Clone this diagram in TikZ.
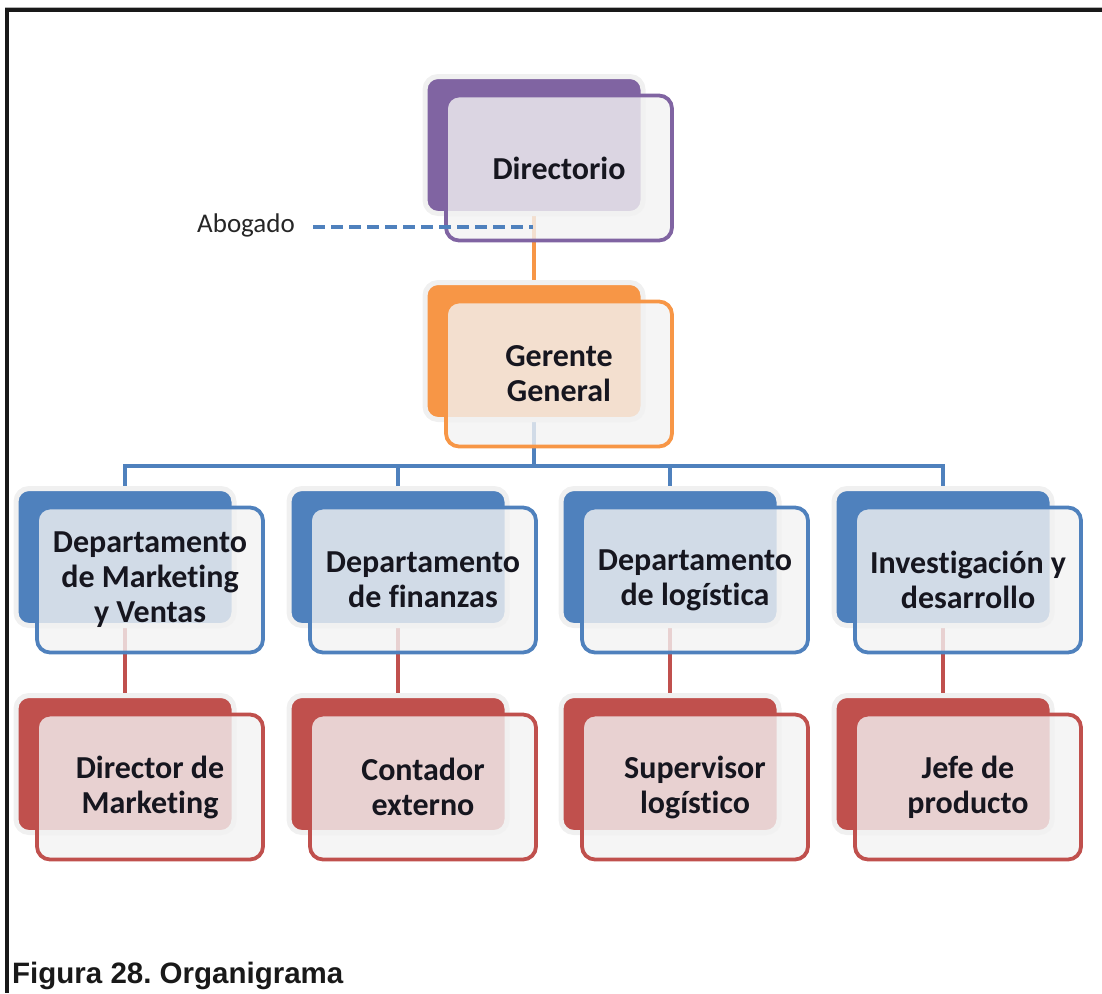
\documentclass[tikz,border=0pt]{standalone}
\usepackage{fontspec}
\setmainfont[Ligatures=NoCommon]{Carlito}
\newfontfamily\capfont{Liberation Sans}
\definecolor{cPurple}{HTML}{8064A2}
\definecolor{cOrange}{HTML}{F79646}
\definecolor{cBlue}{HTML}{4F81BD}
\definecolor{cRed}{HTML}{C0504D}
\definecolor{boxgray}{HTML}{F2F2F2}
\definecolor{halo}{HTML}{F0F0F0}
\definecolor{txt}{HTML}{16161F}
\pgfdeclarelayer{links}
\pgfsetlayers{links,main}

% one card: solid back panel plus translucent front panel carrying the text
% #1 name, #2 colour, #3 x, #4 y (front centre), #5 text
\newcommand\orgcard[5]{%
  \node[backbox=#2] (#1B) at ([shift={(-25,-23)}]#3,#4) {};
  \node[frontbox=#2] (#1) at (#3,#4) {#5};
}

\begin{document}
\begin{tikzpicture}[x=1pt,y=-1pt,
  backbox/.style={draw=halo, line width=5pt, fill=#1, rounded corners=13pt,
    minimum width=218pt, minimum height=137pt, inner sep=0pt},
  frontbox/.style={draw=#1, line width=3.8pt, fill=boxgray, fill opacity=0.8,
    text opacity=1, rounded corners=13pt, minimum width=226pt,
    minimum height=145pt, inner sep=0pt, align=center, text=txt,
    font=\bfseries\fontsize{32}{35}\selectfont},
  link/.style={draw=#1, line width=4.5pt},
]
\useasboundingbox (0,0) rectangle (1102,993);

% page frame
\draw[gray!60, line width=0.8pt] (5,7) -- (1102,7);
\draw[black!90, line width=4pt] (5,9.5) -- (1102,9.5);
\draw[black!90, line width=3.5pt] (7,8) -- (7,993);

% cards
\orgcard{dir}{cPurple}{559}{168}{Directorio}
\orgcard{ger}{cOrange}{559}{374}{Gerente\\General}

\orgcard{mk}{cBlue}{150}{580}{Departamento\\de Marketing\\y Ventas}
\orgcard{fn}{cBlue}{423}{580}{Departamento\\de finanzas}
\orgcard{lg}{cBlue}{695}{580}{Departamento\\de logística}
\orgcard{id}{cBlue}{968}{580}{Investigación y\\desarrollo}

\orgcard{dm}{cRed}{150}{787}{Director de\\Marketing}
\orgcard{ce}{cRed}{423}{787}{Contador\\externo}
\orgcard{sl}{cRed}{695}{787}{Supervisor\\logístico}
\orgcard{jp}{cRed}{968}{787}{Jefe de\\producto}

% advisor
\node[inner sep=0pt, anchor=base, text=black!85,
      font=\fontsize{27}{30}\selectfont] (abog) at (246,232) {Abogado};
\coordinate (abogEnd) at (533,227);
\draw[link=cBlue, dash pattern=on 12pt off 6pt, shorten <=18pt]
  (abog.east |- abogEnd) -- (abogEnd);

% reporting lines, kept beneath the cards
\coordinate (bus) at (534,466);
\begin{pgfonlayer}{links}
  \draw[link=cOrange] (dirB.south) -- (gerB.north);
  \draw[link=cBlue] (gerB.south) -- (bus);
  \draw[link=cBlue] (mkB.north) |- (bus) -| (idB.north);
  \draw[link=cBlue] (fnB.north) -- (fnB.north |- bus);
  \draw[link=cBlue] (lgB.north) -- (lgB.north |- bus);
  \draw[link=cRed] (mkB.south) -- (dmB.north);
  \draw[link=cRed] (fnB.south) -- (ceB.north);
  \draw[link=cRed] (lgB.south) -- (slB.north);
  \draw[link=cRed] (idB.south) -- (jpB.north);
\end{pgfonlayer}

% caption
\node[inner sep=0pt, anchor=base west, text=black!90,
      font=\capfont\bfseries\fontsize{29.5}{32}\selectfont] (cap) at (12,983)
  {Figura 28.\ Organigrama};
\end{tikzpicture}
\end{document}
